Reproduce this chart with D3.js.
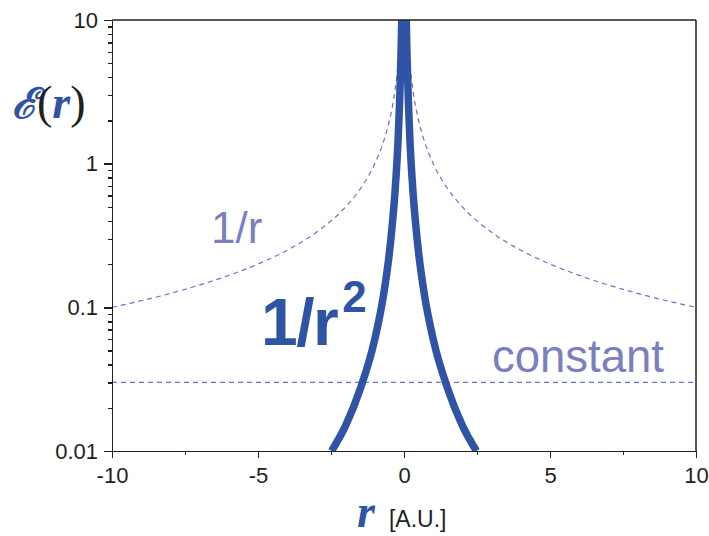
<!DOCTYPE html>
<html lang="en">
<head>
<meta charset="UTF-8">
<title>E(r) decay</title>
<script src="https://d3js.org/d3.v7.min.js"></script>
<style>
  body { margin: 0; background: #fff; font-family: "Liberation Sans", Arial, sans-serif; }
  .axis path, .axis line { stroke: #231f20; stroke-width: 1.5; shape-rendering: crispEdges; }
  .axis text { fill: #231f20; font-size: 22px; font-family: "Liberation Sans", Arial, sans-serif; }
</style>
</head>
<body>
<script>
// values
const xTicks = [-10, -5, 0, 5, 10];
const xTickLabels = ["-10", "-5", "0", "5", "10"];
const xMinor = [-7.5, -2.5, 2.5, 7.5];
const yTicks = [0.01, 0.1, 1, 10];
const yTickLabels = ["0.01", "0.1", "1", "10"];
const yMinor = [0.02, 0.03, 0.04, 0.05, 0.06, 0.07, 0.08, 0.09,
                0.2, 0.3, 0.4, 0.5, 0.6, 0.7, 0.8, 0.9,
                2, 3, 4, 5, 6, 7, 8, 9];

// 1/r curve (dashed)
const invR = [0.1, 0.15, 0.2, 0.3, 0.5, 0.7, 1, 1.5, 2, 3, 4, 5, 6, 8, 10];
const invVal = [10, 6.67, 5, 3.33, 2, 1.43, 1, 0.667, 0.5, 0.333, 0.25, 0.2, 0.167, 0.125, 0.1];

// 1/r^2 curve (thick)
const sqR = [0.07, 0.1, 0.15, 0.2, 0.3, 0.4, 0.5, 0.7, 1.0, 1.5, 2.0, 2.48];
const sqVal = [12, 6, 2.7, 1.5, 0.67, 0.38, 0.24, 0.122, 0.06, 0.027, 0.015, 0.01];

// constant level
const constR = [-10, 10];
const constVal = [0.03, 0.03];

const w = 709, h = 536;
const margin = { top: 20, right: 13, bottom: 85, left: 112 };

const svg = d3.select("body").append("svg").attr("width", w).attr("height", h);

const x = d3.scaleLinear().domain([-10, 10]).range([margin.left, w - margin.right]);
const y = d3.scaleLog().domain([0.01, 10]).range([h - margin.bottom, margin.top]);

svg.append("clipPath").attr("id", "plot")
  .append("rect")
  .attr("x", margin.left).attr("y", margin.top)
  .attr("width", x(10) - x(-10)).attr("height", y(0.01) - y(10));

const blue = "#2f54a5";
const lav = "#6e71c9";
const lavText = "#7b7fc0";

// mirror a half curve onto both sides
function both(rs, vs) {
  const left = rs.map((r, i) => [-r, vs[i]]).reverse();
  const right = rs.map((r, i) => [r, vs[i]]);
  return [left, right];
}

const line = d3.line()
  .x(d => x(d[0]))
  .y(d => y(d[1]))
  .curve(d3.curveMonotoneX);

const g = svg.append("g").attr("clip-path", "url(#plot)");

both(invR, invVal).forEach(part => {
  g.append("path")
    .attr("d", line(part))
    .attr("fill", "none")
    .attr("stroke", lav)
    .attr("stroke-width", 1.2)
    .attr("stroke-dasharray", "5,4");
});

g.append("path")
  .attr("d", line(constR.map((r, i) => [r, constVal[i]])))
  .attr("fill", "none")
  .attr("stroke", lav)
  .attr("stroke-width", 1.2)
  .attr("stroke-dasharray", "5,4");

both(sqR, sqVal).forEach(part => {
  g.append("path")
    .attr("d", line(part))
    .attr("fill", "none")
    .attr("stroke", blue)
    .attr("stroke-width", 7.5);
});

// axes
const xAxis = d3.axisBottom(x).tickValues(xTicks)
  .tickFormat((d, i) => xTickLabels[i]).tickSize(7).tickPadding(9).tickSizeOuter(0);
svg.append("g").attr("class", "axis")
  .attr("transform", `translate(0,${y(0.01)})`)
  .call(xAxis);
svg.append("g").attr("class", "axis")
  .attr("transform", `translate(0,${y(0.01)})`)
  .call(d3.axisBottom(x).tickValues(xMinor).tickSize(4).tickFormat("").tickSizeOuter(0));

const yAxis = d3.axisLeft(y).tickValues(yTicks)
  .tickFormat((d, i) => yTickLabels[i]).tickSize(8).tickPadding(6).tickSizeOuter(0);
svg.append("g").attr("class", "axis")
  .attr("transform", `translate(${margin.left},0)`)
  .call(yAxis);
svg.append("g").attr("class", "axis")
  .attr("transform", `translate(${margin.left},0)`)
  .call(d3.axisLeft(y).tickValues(yMinor).tickSize(4).tickFormat("").tickSizeOuter(0));

// top and right frame
svg.append("line").attr("x1", x(-10)).attr("x2", x(10)).attr("y1", y(10)).attr("y2", y(10))
  .attr("stroke", "#231f20").attr("stroke-width", 1.5);
svg.append("line").attr("x1", x(10)).attr("x2", x(10)).attr("y1", y(10)).attr("y2", y(0.01))
  .attr("stroke", "#231f20").attr("stroke-width", 1.5);

// y title  E(r)
const yt = svg.append("text").attr("x", 12).attr("y", 118)
  .style("font-family", "'Liberation Serif', 'DejaVu Serif', serif").style("font-size", "46px");
yt.append("tspan").text("ℰ").attr("fill", blue)
  .style("font-weight", "bold").style("font-style", "italic")
  .style("font-family", "'DejaVu Serif', serif").style("font-size", "42px");
yt.append("tspan").text("(").attr("fill", "#231f20");
yt.append("tspan").text("r").attr("fill", blue).style("font-weight", "bold").style("font-style", "italic");
yt.append("tspan").text(")").attr("fill", "#231f20");

// x title
const xt = svg.append("text").attr("x", 357).attr("y", 527);
xt.append("tspan").text("r").attr("fill", blue)
  .style("font-family", "'Liberation Serif', serif").style("font-size", "46px")
  .style("font-weight", "bold").style("font-style", "italic");
xt.append("tspan").text("[A.U.]").attr("dx", 14).attr("fill", "#231f20")
  .style("font-family", "'Liberation Sans', Arial, sans-serif").style("font-size", "23px");

// curve labels
svg.append("text").attr("x", 211).attr("y", 243).text("1/r")
  .attr("fill", lavText).style("font-size", "44px");
svg.append("text").attr("x", 492).attr("y", 372).text("constant")
  .attr("fill", lavText).style("font-size", "45.5px");

const sq = svg.append("text").attr("x", 261).attr("y", 345)
  .attr("fill", blue).style("font-weight", "bold").style("font-size", "66px")
  .style("letter-spacing", "-1.5px");
sq.append("tspan").text("1/r");
sq.append("tspan").text("2").attr("dx", 5).attr("dy", -33).style("font-size", "44px");
</script>
</body>
</html>
